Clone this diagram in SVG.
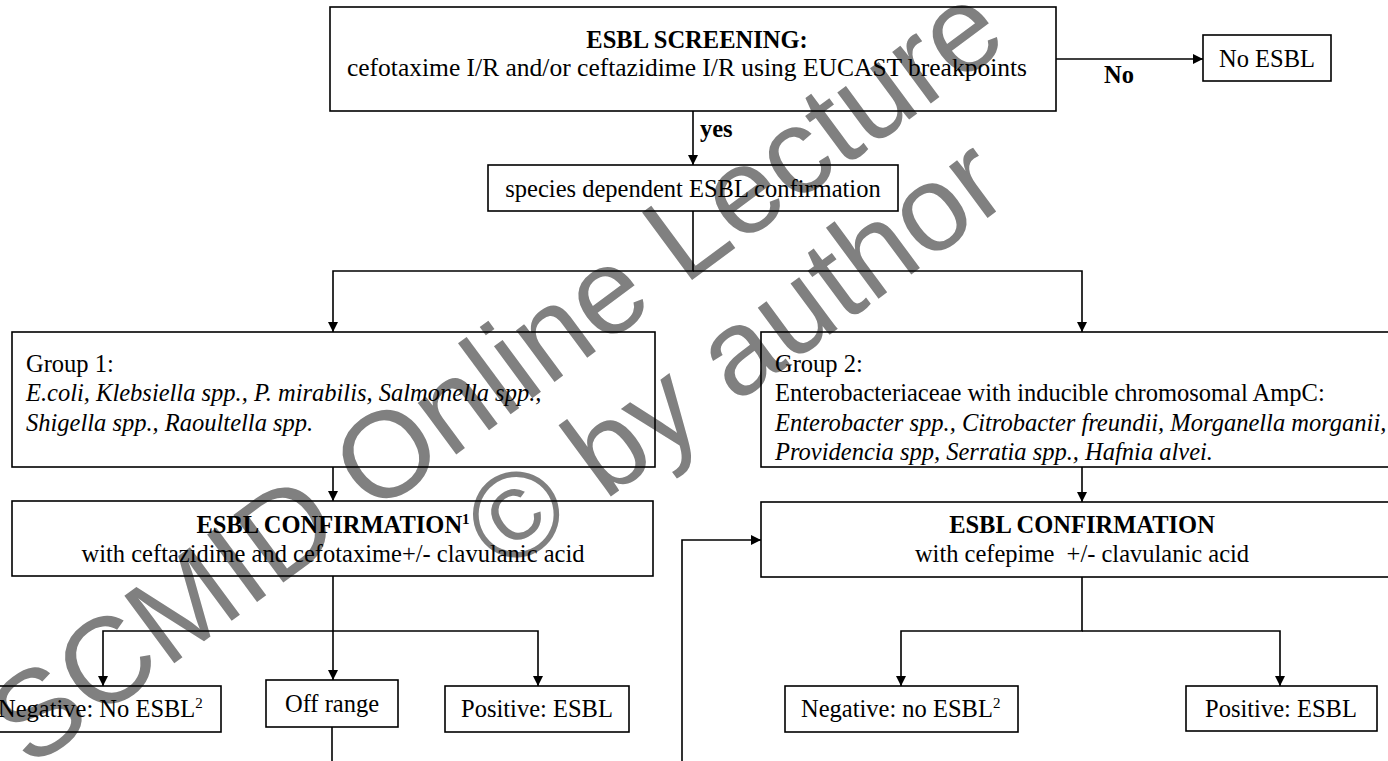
<svg xmlns="http://www.w3.org/2000/svg" width="1388" height="761" viewBox="0 0 1388 761">
<style>
.bg{fill:#ffffff}
.wm{font-family:"Liberation Sans",Arial,sans-serif;font-size:122px;fill:#808080}
.box{fill:none;stroke:#000;stroke-width:1.6}
.t{font-family:"Liberation Serif","Times New Roman",serif;font-size:24.5px;fill:#000}
.b{font-weight:bold}
.i{font-style:italic}
.sup{font-size:15px}
.c{fill:none;stroke:#000;stroke-width:1.6}
</style>
<defs>
<marker id="ah" markerUnits="userSpaceOnUse" markerWidth="11" markerHeight="10" refX="10" refY="5" orient="auto">
<path d="M0,0 L10,5 L0,10 z" fill="#000"/>
</marker>
</defs>
<rect class="bg" x="0" y="0" width="1388" height="761"/>
<g id="watermark">
<text class="wm" transform="translate(30,770) rotate(-36.5)">SCMID Online Lecture</text>
<text class="wm" transform="translate(505,575) rotate(-36.5)">© by author</text>
</g>
<g id="connectors">
<path class="c" d="M1056,59 H1203" marker-end="url(#ah)"/>
<path class="c" d="M693,111 V165" marker-end="url(#ah)"/>
<path class="c" d="M693,211 V271 H333 V332" marker-end="url(#ah)"/>
<path class="c" d="M693,271 H1082 V332" marker-end="url(#ah)"/>
<path class="c" d="M333,467 V501" marker-end="url(#ah)"/>
<path class="c" d="M1082,467 V502" marker-end="url(#ah)"/>
<path class="c" d="M333,576 V680" marker-end="url(#ah)"/>
<path class="c" d="M333,631 H103 V686" marker-end="url(#ah)"/>
<path class="c" d="M333,631 H538 V686" marker-end="url(#ah)"/>
<path class="c" d="M332,727 V761"/>
<path class="c" d="M682,761 V540 H761" marker-end="url(#ah)"/>
<path class="c" d="M1082,577 V631 H901 V686" marker-end="url(#ah)"/>
<path class="c" d="M1082,631 H1280 V686" marker-end="url(#ah)"/>
<text class="t b" x="1104" y="83">No</text>
<text class="t b" x="700" y="137">yes</text>
</g>
<g id="n-screening">
<rect class="box" x="330" y="7" width="726" height="104"/>
<text class="t b" x="697" y="48" text-anchor="middle">ESBL SCREENING:</text>
<text class="t" x="687" y="76" text-anchor="middle" style="font-size:25.5px">cefotaxime I/R and/or ceftazidime I/R using EUCAST breakpoints</text>
</g>
<g id="n-noesbl">
<rect class="box" x="1203" y="35" width="128" height="46"/>
<text class="t" x="1267" y="67" text-anchor="middle">No ESBL</text>
</g>
<g id="n-species">
<rect class="box" x="488" y="165" width="410" height="46"/>
<text class="t" x="693" y="197" text-anchor="middle">species dependent ESBL confirmation</text>
</g>
<g id="n-group1">
<rect class="box" x="12" y="332" width="643" height="135"/>
<text class="t" x="26" y="372">Group 1:</text>
<text class="t i" x="26" y="401">E.coli, Klebsiella spp., P. mirabilis, Salmonella spp.,</text>
<text class="t i" x="26" y="431">Shigella spp., Raoultella spp.</text>
</g>
<g id="n-group2">
<rect class="box" x="761" y="332" width="650" height="135"/>
<text class="t" x="775" y="372">Group 2:</text>
<text class="t" x="775" y="401">Enterobacteriaceae with inducible chromosomal AmpC:</text>
<text class="t i" x="775" y="431">Enterobacter spp., Citrobacter freundii, Morganella morganii,</text>
<text class="t i" x="775" y="460">Providencia spp, Serratia spp., Hafnia alvei.</text>
</g>
<g id="n-confirm1">
<rect class="box" x="12" y="501" width="641" height="75"/>
<text class="t b" x="333" y="533" text-anchor="middle">ESBL CONFIRMATION<tspan class="sup" dy="-9">1</tspan></text>
<text class="t" x="333" y="562" text-anchor="middle">with ceftazidime and cefotaxime+/- clavulanic acid</text>
</g>
<g id="n-confirm2">
<rect class="box" x="761" y="502" width="650" height="75"/>
<text class="t b" x="1082" y="533" text-anchor="middle">ESBL CONFIRMATION</text>
<text class="t" x="1082" y="562" text-anchor="middle" xml:space="preserve">with cefepime  +/- clavulanic acid</text>
</g>
<g id="n-neg1">
<rect class="box" x="-20" y="686" width="241" height="46"/>
<text class="t" x="-2" y="717">Negative: No ESBL<tspan class="sup" dy="-9">2</tspan></text>
</g>
<g id="n-offrange">
<rect class="box" x="266" y="680" width="132" height="47"/>
<text class="t" x="332" y="712" text-anchor="middle">Off range</text>
</g>
<g id="n-pos1">
<rect class="box" x="445" y="686" width="184" height="46"/>
<text class="t" x="537" y="717" text-anchor="middle">Positive: ESBL</text>
</g>
<g id="n-neg2">
<rect class="box" x="785" y="686" width="233" height="46"/>
<text class="t" x="801" y="717">Negative: no ESBL<tspan class="sup" dy="-9">2</tspan></text>
</g>
<g id="n-pos2">
<rect class="box" x="1186" y="686" width="191" height="45"/>
<text class="t" x="1281" y="717" text-anchor="middle">Positive: ESBL</text>
</g>
</svg>
